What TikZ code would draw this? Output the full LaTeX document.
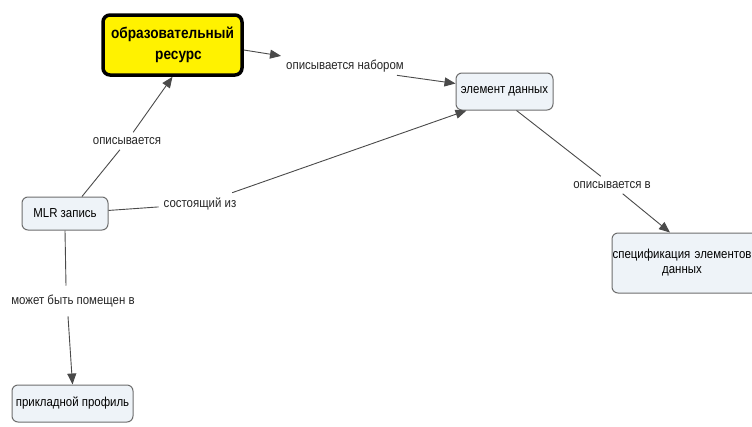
\documentclass[tikz,border=0pt]{standalone}
\usepackage{fontspec}
\setmainfont{Liberation Sans}[FakeStretch=0.88]
\usetikzlibrary{arrows.meta}
\definecolor{boxfill}{HTML}{EEF3F8}
\definecolor{boxline}{HTML}{6E6E6E}
\definecolor{linkc}{HTML}{4A4A4A}
\definecolor{resyellow}{HTML}{FFF200}
\tikzset{
  concept/.style={draw=boxline, line width=1pt, fill=boxfill, rounded corners=6pt, align=center, inner sep=2pt, font=\fontsize{13}{15}\selectfont},
  mainconcept/.style={draw=black, line width=3.5pt, fill=resyellow, rounded corners=7pt, align=center, inner sep=2pt, font=\bfseries\fontsize{15.5}{21}\selectfont},
  linklabel/.style={inner sep=5pt, font=\fontsize{13}{15}\selectfont, text=black!85},
  link/.style={draw=linkc, line width=0.9pt},
  arrowlink/.style={link, -{Triangle[length=11pt,width=9pt]}}
}
\begin{document}
\begin{tikzpicture}[x=1pt,y=-1pt]
\clip (0,0) rectangle (752,426);
\fill[white] (0,0) rectangle (752,426);
% concepts
\node[mainconcept, minimum width=139pt, minimum height=60pt] (res) at (172.5,45) {образовательный\\\hspace*{12pt}ресурс};
\node[concept, minimum width=97pt, minimum height=37pt] (elem) at (504.5,91.5) {элемент данных};
\node[concept, minimum width=150pt, minimum height=60pt, text width=146pt] (spec) at (687,263) {\hspace*{-10pt}спецификация элементов\\\hspace*{-10pt}данных};
\node[concept, minimum width=86pt, minimum height=33pt] (mlr) at (65,213.5) {MLR запись};
\node[concept, minimum width=121pt, minimum height=37pt] (prof) at (72.5,403.5) {прикладной профиль};
% link labels
\node[linklabel] (l1) at (127,141) {описывается};
\node[linklabel] (l2) at (345,66) {описывается набором};
\node[linklabel] (l3) at (200,204) {состоящий из};
\node[linklabel] (l4) at (612,185) {описывается в};
\node[linklabel, inner sep=9pt] (l5) at (73,301) {может быть помещен в};
% anchor points for connectors
\coordinate (m1) at ([xshift=17pt]mlr.north);
\coordinate (r1) at ([yshift=-5pt]res.east);
\coordinate (l2e) at ([xshift=-12pt,yshift=2pt]l2.south east);
\coordinate (e1) at ([yshift=8pt]elem.west);
\coordinate (m5) at (mlr.south);
\coordinate (l5t) at (l5.north -| m5);
\coordinate (l5b) at ([xshift=-5pt]l5.south);
% connectors
\draw[link] (m1) -- (l1);
\draw[arrowlink] (l1) -- (res.south);
\draw[arrowlink] (r1) -- (l2);
\draw[arrowlink] (l2e) -- (e1);
\draw[link] (mlr) -- (l3);
\draw[arrowlink] (l3) -- ([xshift=-38pt]elem.south);
\draw[link] ([xshift=12pt]elem.south) -- (l4);
\draw[arrowlink] (l4) -- ([xshift=-17pt]spec.north);
\draw[link] (m5) -- ([xshift=1pt]l5t);
\draw[arrowlink] (l5b) -- (prof.north);
\end{tikzpicture}
\end{document}
